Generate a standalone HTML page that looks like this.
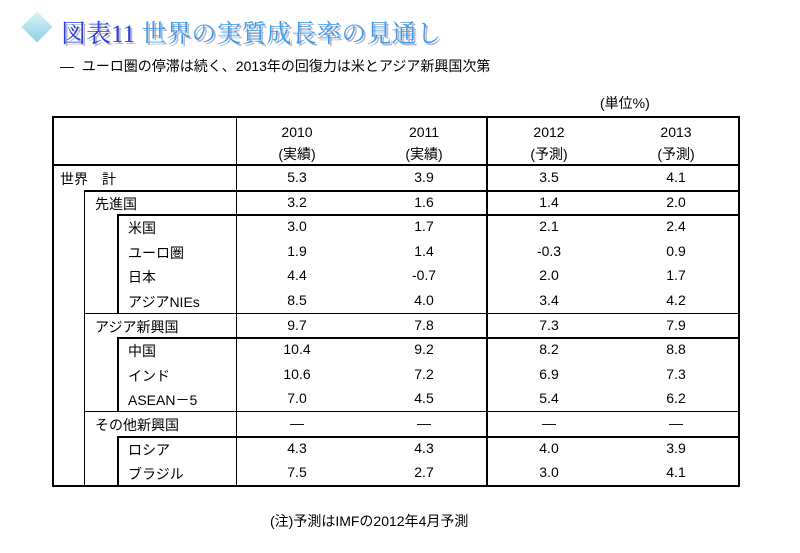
<!DOCTYPE html>
<html><head><meta charset="utf-8"><style>
body{margin:0;width:800px;height:553px;background:#fff;position:relative;overflow:hidden;font-family:"Liberation Sans","Noto Sans CJK JP",sans-serif;color:#000}
.a{position:absolute;white-space:nowrap}
.t{font-family:"Liberation Serif","Noto Serif CJK SC",serif;font-size:25px;color:#2a3fd8;text-shadow:2px 2px 0 #b8b8c8;letter-spacing:0px}
.l{position:absolute;background:#000}
.c{position:absolute;font-size:14px;text-align:center;width:120px}
.lb{position:absolute;font-size:14px}
</style></head><body>
<div class="a" style="left:26px;top:16px;width:22px;height:22px;transform:rotate(45deg);background:linear-gradient(135deg,#d8f2f8,#8fd2e4);"></div>
<div class="a t" style="left:61px;top:14px">図表11 <span style="color:#3a9af0">世界の実質成長率の見通し</span></div>
<div class="a" style="left:60px;top:56px;font-size:14px">―&nbsp; ユーロ圏の停滞は続く、2013年の回復力は米とアジア新興国次第</div>
<div class="a" style="left:600px;top:93px;font-size:14px">(単位%)</div>
<div id="tbl"></div>
<div class="a" style="left:270px;top:511px;font-size:14px">(注)予測はIMFの2012年4月予測</div>
<script>
const labels=["世界　計","先進国","米国","ユーロ圏","日本","アジアNIEs","アジア新興国","中国","インド","ASEAN－5","その他新興国","ロシア","ブラジル"];
const levels=[0,1,2,2,2,2,1,2,2,2,1,2,2];
const years=["2010","2011","2012","2013"];
const kinds=["(実績)","(実績)","(予測)","(予測)"];
const v2010=["5.3","3.2","3.0","1.9","4.4","8.5","9.7","10.4","10.6","7.0","―","4.3","7.5"];
const v2011=["3.9","1.6","1.7","1.4","-0.7","4.0","7.8","9.2","7.2","4.5","―","4.3","2.7"];
const v2012=["3.5","1.4","2.1","-0.3","2.0","3.4","7.3","8.2","6.9","5.4","―","4.0","3.0"];
const v2013=["4.1","2.0","2.4","0.9","1.7","4.2","7.9","8.8","7.3","6.2","―","3.9","4.1"];
const series=[v2010,v2011,v2012,v2013];
const T=document.getElementById('tbl');
const top0=116,hdrB=165,rowH=24.6,L=52,R=738;
const colX=[297,424,549,676];
const indent=[60,95,128];
function line(x,y,w,h,name){const d=document.createElement('div');d.className='l';


d.style.left=x+'px';d.style.top=y+'px';d.style.width=w+'px';d.style.height=h+'px';T.appendChild(d);}
const bottom=hdrB+rowH*labels.length;
line(L,top0,R-L,2,'table-border-top');
line(L,bottom,R-L+2,2,'table-border-bottom');
line(L,top0,2,bottom-top0,'table-border-left');
line(R,top0,2,bottom-top0+2,'table-border-right');
line(236,top0,1,bottom-top0,'divider-label');
line(486,top0,2,bottom-top0,'divider-forecast');
line(L,hdrB-1,R-L,2,'header-bottom-line');
years.forEach((y,i)=>{const d=document.createElement('div');d.className='c';


d.style.left=(colX[i]-60)+'px';d.style.top='121px';d.style.lineHeight='22px';d.innerHTML=y+'<br>'+kinds[i];T.appendChild(d);});
line(84,hdrB+rowH,1,bottom-hdrB-rowH,'indent-line-1');
// groups of level-2 children: [firstRow, lastRowExclusive]
[[2,6],[7,10],[11,13]].forEach((g,i)=>line(117,hdrB+rowH*g[0],2,rowH*(g[1]-g[0]),'indent-line-2-'+i));
labels.forEach((lab,i)=>{
  const y=hdrB+rowH*i;
  if(i>0){const lv=levels[i];
    if(lv===1) line(84,y,R-84,levels[i-1]===2?1:2,'row-line-'+i);
    else if(levels[i-1]===1) line(117,y,R-117,2,'row-line-'+i);}
  const d=document.createElement('div');d.className='lb';
  
  
  d.style.left=indent[levels[i]]+'px';d.style.top=(y+4)+'px';d.textContent=lab;T.appendChild(d);
  series.forEach((s,j)=>{const c=document.createElement('div');c.className='c';
    
    
    c.style.left=(colX[j]-60)+'px';c.style.top=(y+4)+'px';c.textContent=s[i];T.appendChild(c);});
});
</script>
</body></html>
